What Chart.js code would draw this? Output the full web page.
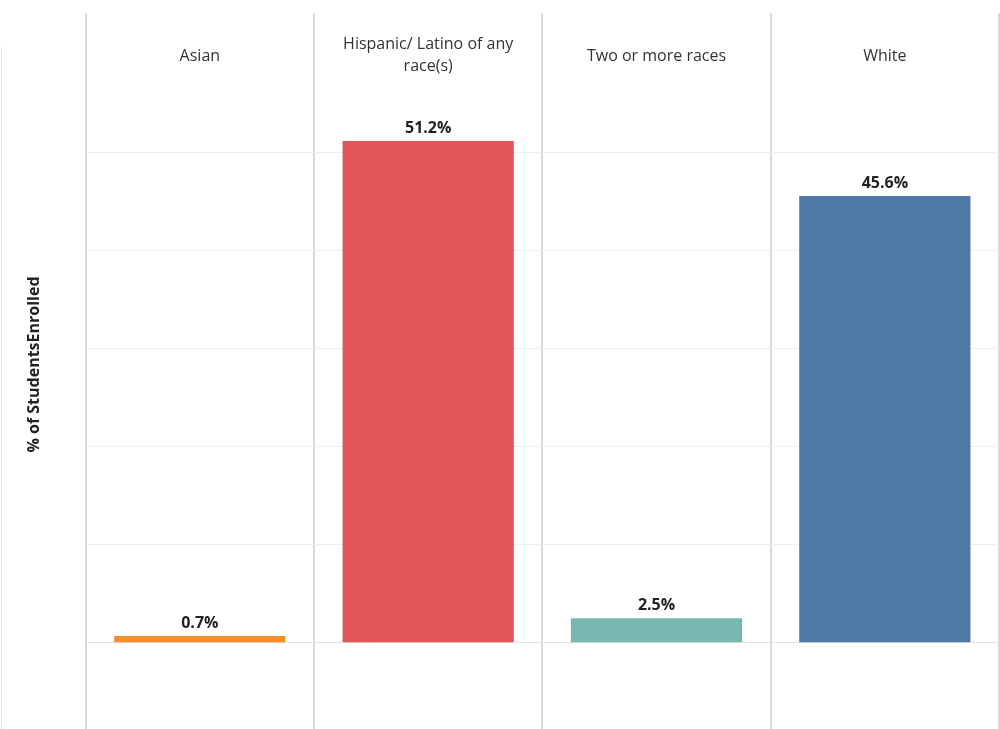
<!DOCTYPE html>
<html><head><meta charset="utf-8">
<script src="https://cdn.jsdelivr.net/npm/chart.js@4.4.1/dist/chart.umd.min.js"></script>
<style>html,body{margin:0;padding:0;background:#fff;overflow:hidden}#wrap{width:1000px;height:729px;position:relative}</style>
</head><body><div id="wrap"><canvas id="c" width="1000" height="729"></canvas></div>
<script>
const categories = ["Asian", "Hispanic/ Latino of any race(s)", "Two or more races", "White"];
const headerLines = [["Asian"], ["Hispanic/ Latino of any", "race(s)"], ["Two or more races"], ["White"]];
const percentEnrolled = [0.7, 51.2, 2.5, 45.6];
const barColors = ["#F28E2B", "#E15759", "#76B7B2", "#4E79A7"];
const gridValues = [0, 10, 20, 30, 40, 50];
const yTitle = "% of StudentsEnrolled";

const valueLabels = percentEnrolled.map(v => v.toFixed(1) + "%");

const deco = {
  id: 'deco',
  beforeDraw(chart) {
    const ctx = chart.ctx;
    ctx.save();
    ctx.fillStyle = '#ffffff';
    ctx.fillRect(0, 0, chart.width, chart.height);
    ctx.strokeStyle = '#e8e8e8';
    ctx.lineWidth = 1;
    ctx.beginPath();
    ctx.moveTo(1.5, 47);
    ctx.lineTo(1.5, chart.height);
    ctx.stroke();
    ctx.restore();
  },
  afterDatasetsDraw(chart) {
    const ctx = chart.ctx;
    ctx.save();
    ctx.font = 'bold 16px "Open Sans"';
    ctx.fillStyle = '#222222';
    ctx.textAlign = 'center';
    ctx.textBaseline = 'alphabetic';
    const meta = chart.getDatasetMeta(0);
    meta.data.forEach((bar, i) => {
      ctx.fillText(valueLabels[i], bar.x, bar.y - 8);
    });
    ctx.font = '16px "Open Sans"';
    ctx.fillStyle = '#333333';
    const xs = chart.scales.x;
    headerLines.forEach((lines, i) => {
      const x = xs.getPixelForValue(i);
      const bases = lines.length === 1 ? [61] : [48.5, 70.5];
      lines.forEach((t, j) => ctx.fillText(t, x, bases[j]));
    });
    ctx.restore();
  }
};

new Chart(document.getElementById('c'), {
  type: 'bar',
  data: {
    labels: categories,
    datasets: [{
      data: percentEnrolled,
      backgroundColor: barColors,
      borderWidth: 0,
      barPercentage: 0.75,
      categoryPercentage: 1.0
    }]
  },
  options: {
    responsive: false,
    devicePixelRatio: 1,
    animation: false,
    layout: { padding: { top: 0, right: 1, bottom: 0, left: 0 } },
    plugins: {
      legend: { display: false },
      tooltip: { enabled: false },
      title: {
        display: true,
        position: 'left',
        text: yTitle,
        color: '#222222',
        font: { family: 'Open Sans', size: 16, weight: 'bold', lineHeight: 1.2 },
        padding: { top: 25, bottom: 10 }
      }
    },
    scales: {
      x: {
        position: 'top',
        offset: true,
        afterFit: s => { s.height = 93; },
        ticks: { display: false },
        border: { display: false },
        grid: { offset: true, drawTicks: true, tickLength: 80, color: '#d9d9d9', lineWidth: 2 }
      },
      y: {
        min: -8.8,
        max: 56.1,
        afterFit: s => { s.width = 31.5; },
        afterBuildTicks: s => { s.ticks = gridValues.map(v => ({ value: v })); },
        ticks: { display: false },
        border: { display: false },
        grid: {
          drawTicks: false,
          lineWidth: 1,
          color: c => (c.tick && c.tick.value === 0) ? '#e2e2e2' : '#efefef'
        }
      }
    }
  },
  plugins: [deco]
});
</script>
</body></html>
